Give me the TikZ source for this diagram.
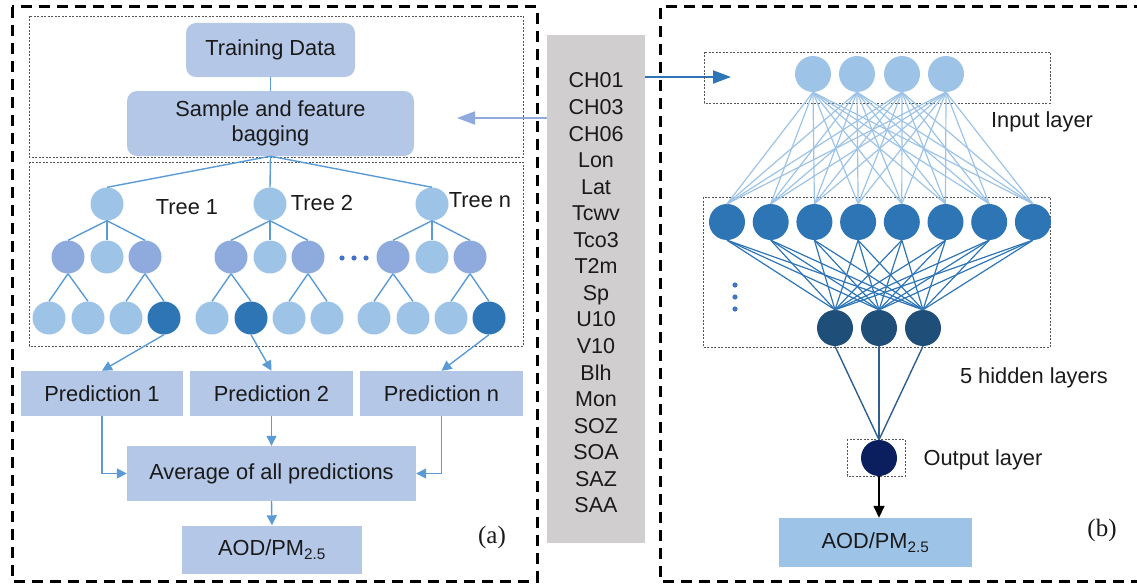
\documentclass[tikz,border=0pt]{standalone}
\usepackage{fontspec}
\setmainfont{Liberation Sans}
\newfontfamily\labelserif{Liberation Serif}
\usetikzlibrary{arrows.meta,calc}

\definecolor{boxblue}{HTML}{B4C7E7}
\definecolor{outblue}{HTML}{9DC3E6}
\definecolor{lightnode}{HTML}{9DC3E6}
\definecolor{perinode}{HTML}{8FAADC}
\definecolor{darknode}{HTML}{2E75B6}
\definecolor{deepnode}{HTML}{1F4E79}
\definecolor{navynode}{HTML}{0B1F5E}
\definecolor{edgeblue}{HTML}{5B9BD5}
\definecolor{deepedge}{HTML}{2F5F8F}
\definecolor{dotblue}{HTML}{4472C4}
\definecolor{featgray}{HTML}{D0CECE}
\definecolor{txt}{HTML}{1A1A1A}
\definecolor{dotgray}{HTML}{555555}

\tikzset{
  panel/.style={draw=black, line width=3pt, dash pattern=on 11pt off 7pt},
  group/.style={draw=dotgray, line width=0.8pt, dash pattern=on 2pt off 1.5pt},
  lbl/.style={text=txt, font=\fontsize{21.8}{25}\selectfont, inner sep=0pt},
  lbox/.style={lbl, fill=boxblue, draw=none, align=center},
  tnode/.style={circle, minimum size=33pt, inner sep=0pt, draw=none},
  nn/.style={circle, minimum size=36pt, inner sep=0pt, draw=none},
  treeedge/.style={draw=edgeblue, line width=1.4pt},
  flow/.style={draw=edgeblue, line width=1.4pt, -{Triangle[length=10pt,width=10pt]}},
}

\begin{document}
\begin{tikzpicture}[x=1pt,y=-1pt]
\useasboundingbox (0,0) rectangle (1137,586);

% ---------- left panel: random forest ----------
\draw[panel] (12,7) rectangle (537,581);
\draw[group] (29,16) rectangle (523,157);
\draw[group] (29,162) rectangle (523,346);

\node[lbox, rounded corners=10pt, minimum width=169pt, minimum height=54pt] (train) at (270.5,50) {Training Data};
\node[lbox, rounded corners=10pt, minimum width=287pt, minimum height=65pt] (sample) at (270.5,123.5) {Sample and feature\\bagging};
\draw[treeedge] (train.south) -- (sample.north);

% three trees: index / root x / index of the selected leaf
\foreach \t/\cx/\dark in {1/107/4, 2/270/2, 3/432/4}{
  \node[tnode, fill=lightnode] (t\t-r) at (\cx,204) {};
  \node[tnode, fill=perinode]  (t\t-m1) at ({\cx-39},257) {};
  \node[tnode, fill=lightnode] (t\t-m2) at (\cx,257) {};
  \node[tnode, fill=perinode]  (t\t-m3) at ({\cx+38},257) {};
  \foreach \l/\dx in {1/-58,2/-19,3/19,4/57}{
    \ifnum\l=\dark \def\lc{darknode}\else\def\lc{lightnode}\fi
    \node[tnode, fill=\lc] (t\t-c\l) at ({\cx+(\dx)},318) {};
  }
  \draw[treeedge] (sample.south) -- (t\t-r.north);
  \foreach \k in {1,2,3}{\draw[treeedge] (t\t-r.south) -- (t\t-m\k.north);}
  \draw[treeedge] (t\t-m1.south) -- (t\t-c1.north);
  \draw[treeedge] (t\t-m1.south) -- (t\t-c2.north);
  \draw[treeedge] (t\t-m3.south) -- (t\t-c3.north);
  \draw[treeedge] (t\t-m3.south) -- (t\t-c4.north);
}
\node[lbl] (tl1) at (187,207) {Tree 1};
\node[lbl] (tl2) at (322,203) {Tree 2};
\node[lbl] (tl3) at (480,200) {Tree n};
\foreach \x in {342,354,366}{\fill[dotblue] (\x,258) circle (2.6pt);}

\node[lbox, minimum width=162pt, minimum height=45pt] (p1) at (102,393.5) {Prediction 1};
\node[lbox, minimum width=163pt, minimum height=45pt] (p2) at (271.5,393.5) {Prediction 2};
\node[lbox, minimum width=163pt, minimum height=45pt] (p3) at (441.5,393.5) {Prediction n};
\draw[flow] (t1-c4.south) -- (p1.north);
\draw[flow] (t2-c2.south) -- (p2.north);
\draw[flow] (t3-c4.south) -- (p3.north);

\node[lbox, minimum width=289pt, minimum height=55pt] (avg) at (271.5,473.5) {Average of all predictions};
\draw[flow] (p1.south) |- (avg.west);
\draw[flow] (p2.south) -- (avg.north);
\draw[flow] (p3.south) |- (avg.east);

\node[lbox, minimum width=180pt, minimum height=48pt] (aodL) at (272,549.5) {AOD/PM\textsubscript{2.5}};
\draw[flow] (avg.south) -- (aodL.north);
\node[text=txt, inner sep=0pt, font=\labelserif\fontsize{25}{28}\selectfont] (labA) at (492,537) {(a)};

% ---------- input variables ----------
\node[fill=featgray, minimum width=98pt, minimum height=508pt, inner sep=0pt] (feat) at (596,289) {};
\node[text=txt, align=center, inner sep=0pt, font=\fontsize{21.5}{26.56}\selectfont] (featlist) at (596,293)
  {CH01\\CH03\\CH06\\Lon\\Lat\\Tcwv\\Tco3\\T2m\\Sp\\U10\\V10\\Blh\\Mon\\SOZ\\SOA\\SAZ\\SAA};
\coordinate (bagtip) at (457,118);
\coordinate (intip) at (731,77);
\draw[draw=perinode, line width=2pt, -{Triangle[length=18pt,width=13pt]}] (feat.west |- bagtip) -- (bagtip);
\draw[draw=darknode, line width=2pt, -{Triangle[length=18pt,width=13pt]}] (feat.east |- intip) -- (intip);

% ---------- right panel: neural network ----------
\draw[panel] (1145,7) -- (660,7) -- (660,581) -- (1145,581);
\draw[group] (704,52) rectangle (1050,103);
\draw[group] (703,197) rectangle (1050,347);
\draw[group] (847,439) rectangle (905,476);

\foreach \i/\x in {1/813,2/857,3/902,4/946}{\node[nn, fill=lightnode] (in\i) at (\x,74) {};}
\foreach \i in {1,...,8}{\node[nn, fill=darknode] (h\i) at ({727+43.7*(\i-1)},222) {};}
\foreach \i/\x in {1/835,2/879,3/923}{\node[nn, fill=deepnode] (d\i) at (\x,328) {};}
\node[nn, fill=navynode] (out) at (879,458) {};

\foreach \i in {1,...,4}{\foreach \j in {1,...,8}{\draw[draw=lightnode, line width=1.2pt] (in\i.south) -- (h\j.north);}}
\foreach \i in {1,...,8}{\foreach \j in {1,...,3}{\draw[draw=darknode, line width=1.2pt] (h\i.south) -- (d\j.north);}}
\foreach \j in {1,...,3}{\draw[draw=deepedge, line width=1.4pt] (d\j.south) -- (out.north);}
\foreach \y in {285,297,309}{\fill[dotblue] (735,\y) circle (2.6pt);}

\node[lbl] (inlab) at (1042,122) {Input layer};
\node[lbl] (hidlab) at (1034,378) {5 hidden layers};
\node[lbl] (outlab) at (983,460) {Output layer};

\node[lbl, fill=outblue, minimum width=193pt, minimum height=49pt] (aodR) at (875.5,542.5) {AOD/PM\textsubscript{2.5}};
\draw[draw=black, line width=1.5pt, -{Triangle[length=12pt,width=11pt]}] (out.south) -- (out.south |- aodR.north);
\node[text=txt, inner sep=0pt, font=\labelserif\fontsize{25}{28}\selectfont] (labB) at (1102,530) {(b)};
\end{tikzpicture}
\end{document}
